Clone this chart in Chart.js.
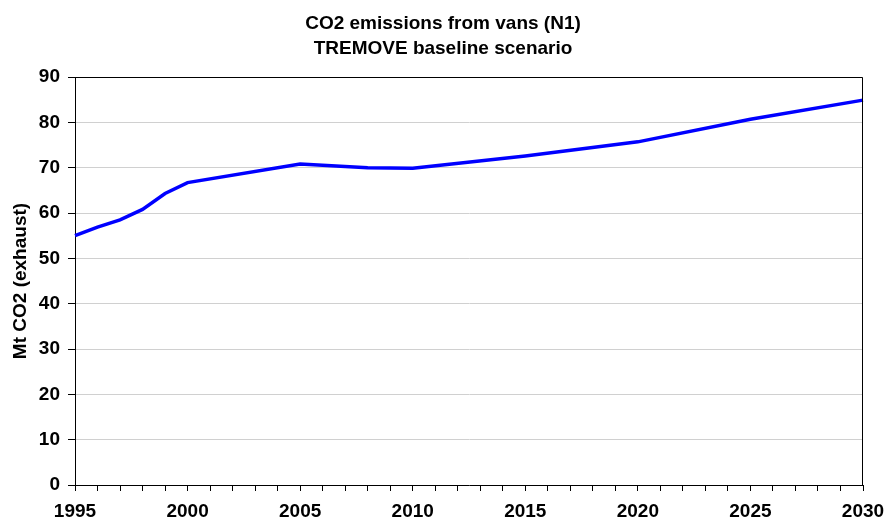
<!DOCTYPE html>
<html>
<head>
<meta charset="utf-8">
<script src="https://cdn.jsdelivr.net/npm/chart.js@4/dist/chart.umd.min.js"></script>
<style>
    html, body { margin: 0; padding: 0; background: #ffffff; }
    #wrap { width: 886px; height: 521px; }
</style>
</head>
<body>
<div id="wrap"><canvas id="chart"></canvas></div>
<script>
"use strict";
// data
const years = [1995, 1996, 1997, 1998, 1999, 2000, 2005, 2008, 2010, 2015, 2020, 2025, 2030];
const co2 = [55.0, 56.9, 58.5, 60.8, 64.3, 66.7, 70.8, 70.0, 69.9, 72.6, 75.7, 80.7, 84.9];
const titleLines = ['CO2 emissions from vans (N1)', 'TREMOVE baseline scenario'];
const yLabel = 'Mt CO2 (exhaust)';

Chart.defaults.font.family = '"Liberation Sans", Arial, sans-serif';
Chart.defaults.color = '#000000';

// top and right frame of the plot area
const frame = {
    id: 'frame',
    afterDraw(chart) {
        const a = chart.chartArea;
        const ctx = chart.ctx;
        ctx.save();
        ctx.strokeStyle = '#000000';
        ctx.lineWidth = 1;
        ctx.beginPath();
        ctx.moveTo(Math.round(a.left) + 0.5, Math.round(a.top) + 0.5);
        ctx.lineTo(Math.round(a.right) - 0.5, Math.round(a.top) + 0.5);
        ctx.lineTo(Math.round(a.right) - 0.5, Math.round(a.bottom));
        ctx.stroke();
        ctx.restore();
    }
};

const data = {
    datasets: [{
        data: years.map((y, i) => ({ x: y, y: co2[i] })),
        borderColor: '#0000ff',
        backgroundColor: '#0000ff',
        borderWidth: 3.5,
        pointRadius: 0,
        tension: 0,
        clip: false
    }]
};

const opt = {
    responsive: true,
    maintainAspectRatio: false,
    animation: false,
    layout: { padding: 0 },
    plugins: {
        legend: { display: false },
        tooltip: { enabled: false },
        title: {
            display: true,
            text: titleLines,
            font: { size: 19, weight: 'bold', lineHeight: 1.29 },
            padding: { top: 12, bottom: 16 }
        }
    },
    scales: {
        x: {
            type: 'linear',
            min: 1995,
            max: 2030,
            afterFit(scale) { scale.height = 36; scale.paddingRight = 23; },
            afterBuildTicks(scale) {
                const t = [];
                for (let y = 1995; y <= 2030; y++) t.push({ value: y });
                scale.ticks = t;
            },
            ticks: {
                autoSkip: false,
                maxRotation: 0,
                padding: 9,
                font: { size: 19, weight: 'bold' },
                callback: v => (v % 5 === 0 ? String(v) : '')
            },
            grid: { drawOnChartArea: false, tickLength: 6, tickColor: '#000000' },
            border: { color: '#000000', width: 1 }
        },
        y: {
            min: 0,
            max: 90,
            afterFit(scale) { scale.width = 75; },
            ticks: {
                stepSize: 10,
                padding: 8,
                font: { size: 19, weight: 'bold' }
            },
            title: {
                display: true,
                text: yLabel,
                font: { size: 19, weight: 'bold' },
                padding: { top: 9, bottom: 0 }
            },
            grid: { color: '#d0d0d0', lineWidth: 1, tickLength: 7, tickColor: '#000000' },
            border: { color: '#000000', width: 1 }
        }
    }
};

const theChart = new Chart(document.getElementById('chart'), {
    type: 'line',
    data: data,
    options: opt,
    plugins: [frame]
});
</script>
</body>
</html>
